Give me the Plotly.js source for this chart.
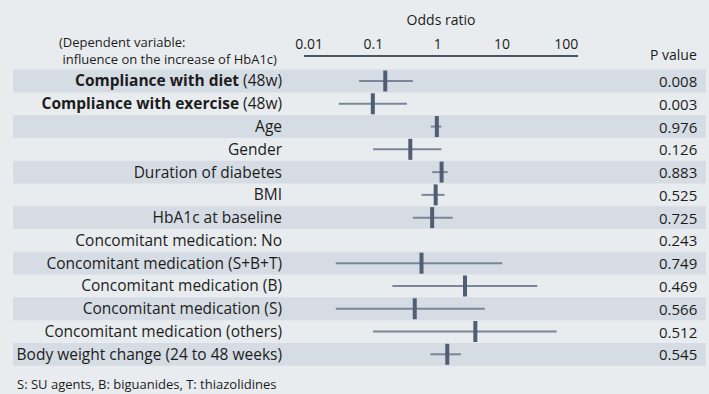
<!DOCTYPE html>
<html><head><meta charset="utf-8">
<script src="https://cdn.plot.ly/plotly-3.0.1.min.js"></script>
<style>html,body{margin:0;padding:0;background:#e9ecef}</style>
</head><body><div id="chart" style="width:709px;height:394px"></div>
<script>
const labels = [
  '<b>Compliance with diet</b> (48w)',
  '<b>Compliance with exercise</b> (48w)',
  'Age',
  'Gender',
  'Duration of diabetes',
  'BMI',
  'HbA1c at baseline',
  'Concomitant medication: No',
  'Concomitant medication (S+B+T)',
  'Concomitant medication (B)',
  'Concomitant medication (S)',
  'Concomitant medication (others)',
  'Body weight change (24 to 48 weeks)'
];
const oddsRatio = [0.153, 0.098, 0.97, 0.375, 1.15, 0.93, 0.82, null, 0.56, 2.66, 0.44, 3.85, 1.41];
const ciLower   = [0.060, 0.029, 0.78, 0.099, 0.82, 0.56, 0.41, null, 0.026, 0.197, 0.026, 0.099, 0.77];
const ciUpper   = [0.41, 0.333, 1.14, 1.14, 1.43, 1.28, 1.71, null, 10.1, 35.4, 5.4, 71, 2.30];
const pValues = ['0.008','0.003','0.976','0.126','0.883','0.525','0.725','0.243','0.749','0.469','0.566','0.512','0.545'];
const tickValues = [0.01, 0.1, 1, 10, 100];
const tickLabels = ['0.01', '0.1', '1', '10', '100'];
const referenceOR = 1;
const footnote = 'S: SU agents, B: biguanides, T: thiazolidines';
const headerNote = '(Dependent variable:<br> influence on the increase of HbA1c)';

const FONT = 'Open Sans, sans-serif';
const TXT = '#1c1c1c';
const rows = labels.map((_, i) => i + 1);

const ciX = [], ciY = [];
rows.forEach((r, i) => {
  if (ciLower[i] != null) { ciX.push(ciLower[i], ciUpper[i], null); ciY.push(r, r, null); }
});

const traces = [
  {type: 'scatter', mode: 'lines', x: ciX, y: ciY, line: {color: '#7a8799', width: 2}, hoverinfo: 'skip', showlegend: false},
  {type: 'scatter', mode: 'markers', x: oddsRatio, y: rows,
   marker: {symbol: 'line-ns', size: 15, line: {width: 4, color: '#4f5e73'}}, showlegend: false}
];

const shapes = [];
rows.forEach((r, i) => {
  if (i % 2 === 0) shapes.push({type: 'rect', xref: 'paper', yref: 'y', x0: -1.062, x1: 1.467,
    y0: r - 0.5, y1: r + 0.5, fillcolor: '#d6dce4', line: {width: 0}, layer: 'below'});
});
shapes.push({type: 'line', xref: 'x', yref: 'paper', x0: Math.log10(referenceOR), x1: Math.log10(referenceOR),
  y0: 0, y1: 1.005, line: {color: '#3c4450', width: 2}, layer: 'above'});

const annotations = rows.map((r, i) => ({xref: 'paper', yref: 'y', x: 1.4416, y: r, xanchor: 'right', yanchor: 'middle',
  text: pValues[i], showarrow: false, font: {family: FONT, size: 15, color: TXT}}));
annotations.push({xref: 'paper', yref: 'paper', x: 1.4416, y: 1.0086, xanchor: 'right', yanchor: 'middle',
  text: 'P value', showarrow: false, font: {family: FONT, size: 14, color: TXT}});
annotations.push({xref: 'paper', yref: 'paper', x: -0.901, y: 1.022, xanchor: 'left', yanchor: 'middle', align: 'left',
  text: headerNote, showarrow: false, font: {family: FONT, size: 13, color: TXT}});
annotations.push({xref: 'paper', yref: 'paper', x: -1.055, y: -0.0435, xanchor: 'left', yanchor: 'middle',
  text: footnote, showarrow: false, font: {family: FONT, size: 13, color: TXT}});

const layout = {
  width: 709, height: 394,
  margin: {l: 304, r: 131, t: 57, b: 24.3, pad: 0},
  paper_bgcolor: '#e9ecef', plot_bgcolor: 'rgba(0,0,0,0)',
  font: {family: FONT, color: TXT},
  xaxis: {type: 'log', range: [-2.079, 2.182], side: 'top', showline: true, linecolor: '#4d535b', linewidth: 2,
    showgrid: false, zeroline: false, ticks: '', tickvals: tickValues, ticktext: tickLabels,
    tickfont: {family: FONT, size: 14, color: TXT},
    title: {text: 'Odds ratio', font: {family: FONT, size: 14, color: TXT}, standoff: 6}},
  yaxis: {range: [13.69, -0.054], tickvals: rows, ticktext: labels, showgrid: false, zeroline: false,
    showline: false, ticks: '', ticklabelstandoff: 21, tickfont: {family: FONT, size: 15.5, color: TXT}},
  shapes: shapes, annotations: annotations, showlegend: false
};

Plotly.newPlot('chart', traces, layout, {displayModeBar: false, staticPlot: true});
</script></body></html>
